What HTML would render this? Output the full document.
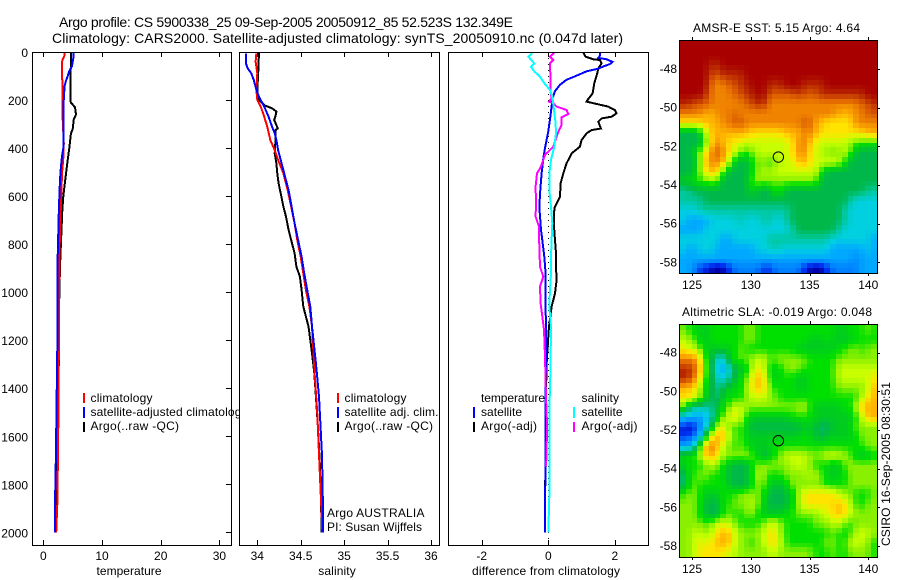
<!DOCTYPE html>
<html>
<head>
<meta charset="utf-8">
<title>Argo profile</title>
<style>
html,body{margin:0;padding:0;background:#fff;}
svg{display:block;}
text{font-family:"Liberation Sans",sans-serif;font-size:12px;fill:#000;}
.t14{font-size:14px;}
</style>
</head>
<body>
<svg id="fig" xmlns="http://www.w3.org/2000/svg" width="900" height="580" viewBox="0 0 900 580">
  <rect x="0" y="0" width="900" height="580" fill="#fff"/>
  <text class="t14" x="59" y="27" textLength="454">Argo profile: CS 5900338_25 09-Sep-2005 20050912_85 52.523S 132.349E</text>
  <text class="t14" x="52" y="43" textLength="571">Climatology: CARS2000. Satellite-adjusted climatology: synTS_20050910.nc (0.047d later)</text>

  <g id="p1"></g>
  <g>
    <rect x="83" y="393" width="2" height="10" fill="#f00"/>
    <rect x="83" y="407" width="2" height="11" fill="#00f"/>
    <rect x="83" y="422" width="2" height="10" fill="#000"/>
    <text x="90.5" y="402" textLength="62">climatology</text>
    <text x="90.5" y="416" textLength="157">satellite-adjusted climatology</text>
    <text x="90.5" y="430" textLength="88.5">Argo(..raw -QC)</text>
  </g>
  <text x="129" y="575" text-anchor="middle" textLength="65">temperature</text>

  <rect x="239" y="52" width="201" height="494" fill="#fff"/>
  <g id="p2"></g>
  <g>
    <rect x="337" y="393" width="2" height="10" fill="#f00"/>
    <rect x="337" y="407" width="2" height="11" fill="#00f"/>
    <rect x="337" y="422" width="2" height="10" fill="#000"/>
    <text x="344.5" y="402" textLength="62">climatology</text>
    <text x="344.5" y="416" textLength="94">satellite adj. clim.</text>
    <text x="344.5" y="430" textLength="88.5">Argo(..raw -QC)</text>
    <text x="327" y="517" textLength="97.5">Argo AUSTRALIA</text>
    <text x="327" y="531" textLength="95">PI: Susan Wijffels</text>
  </g>
  <text x="337" y="575" text-anchor="middle" textLength="37.5">salinity</text>

  <g id="p3"></g>
  <g>
    <text x="481" y="402" textLength="64">temperature</text>
    <rect x="473" y="407" width="2" height="11" fill="#00f"/>
    <rect x="473" y="422" width="2" height="10" fill="#000"/>
    <text x="481" y="416" textLength="41">satellite</text>
    <text x="481" y="430" textLength="56">Argo(-adj)</text>
    <text x="581.5" y="402" textLength="37.5">salinity</text>
    <rect x="573" y="407" width="2" height="11" fill="#0ff"/>
    <rect x="573" y="422" width="2" height="10" fill="#f0f"/>
    <text x="581.5" y="416" textLength="41">satellite</text>
    <text x="581.5" y="430" textLength="56">Argo(-adj)</text>
  </g>
  <text x="546" y="575" text-anchor="middle" textLength="148">difference from climatology</text>

  <text x="693" y="32" textLength="167">AMSR-E SST: 5.15 Argo: 4.64</text>
  <g id="m1"></g>
  <text x="682" y="316" textLength="190">Altimetric SLA: -0.019 Argo: 0.048</text>
  <g id="m2"></g>
  <text transform="translate(890,546) rotate(-90)" textLength="164">CSIRO 16-Sep-2005 08:30:51</text>
</svg>

<script>
// ---------- profile data: depth (m) and value pairs ----------
const tempClimDepth = [0,15,30,40,100,130,200,280,380,440,500,600,800,1000,1200,1550,1870,2000];
const tempClimValue = [3.6,3.6,3.3,3.2,3.15,3.3,3.3,3.3,3.5,3.4,3.2,3.05,2.8,2.7,2.65,2.55,2.4,2.2];
const tempSatDepth = [0,30,60,80,100,120,140,190,300,400,430,480,530,650,850,1000,1200,1680,1880,2000];
const tempSatValue = [5.2,5.1,4.85,4.4,4.15,3.85,3.65,3.5,3.4,3.4,3.2,3.0,2.85,2.65,2.45,2.45,2.4,2.15,2.0,2.0];
const tempArgoDepth = [0,100,200,210,230,260,280,320,340,400,440,480,530,600,660,800,860,1000,1200,1260,1450,1800,2000];
const tempArgoValue = [4.7,4.66,4.6,4.7,5.4,5.57,5.2,5.0,4.7,4.43,4.2,4.0,3.75,3.4,3.24,3.0,2.9,2.73,2.67,2.67,2.5,2.33,2.2];

const salClimDepth = [5,40,88,158,200,227,269,311,366,408,449,505,575,644,713,783,852,921,991,1060,1143,1336,1500,2000];
const salClimValue = [33.99,33.98,34.0,33.99,34.0,34.04,34.08,34.115,34.15,34.2,34.24,34.3,34.35,34.39,34.43,34.46,34.5,34.53,34.56,34.6,34.63,34.66,34.69,34.75];
const salSatDepth = [5,47,68,88,116,158,186,227,269,311,338,366,408,449,505,547,575,644,713,783,852,921,991,1060,1143,1295,1434,1573,1680,1880,2000];
const salSatValue = [33.87,33.87,33.89,33.93,33.96,33.99,34.02,34.08,34.13,34.17,34.2,34.22,34.24,34.27,34.31,34.34,34.36,34.395,34.43,34.47,34.51,34.54,34.575,34.61,34.63,34.675,34.71,34.73,34.745,34.755,34.755];
const salArgoDepth = [1,88,158,193,206,223,234,248,266,283,304,318,325,366,422,463,505,547,588,644,685,741,783,838,894,935,991,1060,1143,1240,1337,1434,1573,1712,1823,1976,2000];
const salArgoValue = [34.02,34.01,34.0,34.01,34.04,34.09,34.17,34.22,34.21,34.195,34.22,34.235,34.21,34.21,34.2,34.22,34.23,34.245,34.27,34.3,34.33,34.36,34.39,34.43,34.45,34.49,34.51,34.53,34.59,34.625,34.656,34.675,34.70,34.72,34.73,34.74,34.74];

const diffTempSatDepth = [0,15,24,30,41,50,60,69,80,101,115,136,163,191,261,330,400,434,505,574,644,740,783,852,921,1060,1157,1460,1712,1880,2000];
const diffTempSatValue = [1.55,1.55,1.5,1.75,1.93,1.85,1.65,1.5,1.15,0.8,0.55,0.35,0.2,0.13,0.07,0,-0.1,-0.14,-0.2,-0.24,-0.27,-0.22,-0.18,-0.12,-0.08,-0.08,-0.07,-0.08,-0.08,-0.1,-0.1];
const diffTempArgoDepth = [1,19,30,33,47,68,88,130,172,199,206,213,227,241,255,269,276,290,318,325,338,366,394,422,463,505,547,602,630,651,727,783,838,894,949,1005,1060,1143,1185,1300,1500,2000];
const diffTempArgoValue = [1.05,1.12,1.35,1.55,1.6,1.5,1.47,1.38,1.33,1.18,1.15,1.35,1.8,2.0,2.05,1.9,1.6,1.5,1.58,1.3,1.15,1.0,0.95,0.7,0.55,0.45,0.37,0.35,0.25,0.18,0.17,0.2,0.23,0.23,0.25,0.2,0.1,0.02,0,-0.05,-0.08,-0.1];
const diffSalSatDepth = [5,19,47,61,81,102,130,158,186,227,297,338,394,449,505,574,644,713,783,852,921,991,1060,1143,1157,1350,1460,1670,1850,2000];
const diffSalSatValue = [-0.48,-0.6,-0.42,-0.52,-0.42,-0.25,-0.12,0.05,0.12,0.16,0.22,0.23,0.18,0.08,0.03,0.03,0.08,0.12,0.1,0.08,0.08,0.05,0.03,0.08,0.08,0.06,0.04,0.03,0.03,0.0];
const diffSalArgoDepth = [1,19,33,47,88,158,193,206,213,227,241,258,272,304,325,352,394,428,477,505,560,630,685,727,810,894,935,977,1046,1143,1157,1268,1434,1546,1670,1725];
const diffSalArgoValue = [0.18,0.05,0.15,0.05,0.06,0.06,0.1,0.02,0.15,0.25,0.55,0.6,0.4,0.4,0.32,0.25,0.15,-0.1,-0.22,-0.34,-0.38,-0.37,-0.38,-0.28,-0.27,-0.25,-0.15,-0.25,-0.23,-0.14,-0.13,-0.1,-0.07,-0.04,-0.05,-0.07];

// ---------- tick labels ----------
const depthTicks = [0,200,400,600,800,1000,1200,1400,1600,1800,2000];
const tempTicks = [0,10,20,30];
const salTicks = [34,34.5,35,35.5,36];
const diffTicks = [-2,0,2];
const lonTicks = [125,130,135,140];
const latTicks = [-48,-50,-52,-54,-56,-58];
const profileLon = 132.349;
const profileLat = -52.523;

// ---------- map grids (colour level per cell, north to south, west to east) ----------
const sstRows = [
[16,16,16,16,16,16,16,16,16,16,16,16,16,16,16,16,16,16,16,16,16,16,16,16,16,16,16,16,16,16,16,16,16,16],
[16,16,16,16,16,16,16,16,16,16,16,16,16,16,16,16,16,16,16,16,16,16,16,16,16,16,16,16,16,16,16,16,16,16],
[16,16,16,16,16,15,15,16,16,16,16,16,16,16,16,16,16,16,16,16,16,16,16,16,16,16,16,16,16,16,16,16,16,16],
[16,16,16,16,16,14,14,15,15,15,15,16,16,16,16,16,16,16,16,16,16,16,16,16,16,16,16,16,16,16,16,16,16,16],
[16,16,16,16,16,13,13,13,14,14,15,15,16,16,16,15,15,15,16,16,16,15,15,15,15,16,16,16,16,16,16,16,16,16],
[16,16,16,16,15,13,13,13,13,14,14,15,15,16,16,14,14,14,14,14,15,14,14,14,15,15,15,15,15,15,15,15,16,16],
[15,15,14,14,14,13,13,13,13,13,13,14,14,15,15,13,13,13,13,13,13,13,13,13,13,13,13,13,13,13,13,14,14,15],
[13,13,13,13,12,12,13,13,13,14,13,13,13,13,13,13,13,13,13,13,13,13,13,13,13,13,13,12,12,12,13,13,14,14],
[11,11,11,11,12,12,12,13,13,14,14,13,13,13,13,13,13,13,13,13,13,14,14,12,12,11,11,11,11,11,13,13,13,13],
[6,6,6,7,10,12,12,12,12,12,12,12,11,11,11,11,11,11,12,12,12,13,13,12,11,11,11,11,11,11,11,11,12,12],
[6,6,6,6,9,12,13,12,11,11,10,10,10,10,10,10,10,10,10,11,13,13,12,10,10,10,10,10,10,9,9,8,8,8],
[6,6,7,9,11,13,14,13,11,10,9,8,9,10,10,10,10,10,10,11,13,13,11,10,10,9,9,9,10,9,6,6,6,6],
[6,6,6,9,12,13,13,12,10,7,6,6,8,9,9,8,9,10,10,10,12,12,11,10,10,10,10,10,8,6,6,6,6,6],
[6,6,7,9,11,12,11,9,6,6,6,6,8,9,10,9,10,10,10,10,10,10,10,10,8,6,6,6,6,6,6,6,6,6],
[7,7,8,8,9,9,9,6,6,6,6,6,9,9,9,9,9,9,9,9,9,9,9,9,6,6,6,6,6,6,6,6,6,6],
[5,5,6,6,6,6,6,6,6,6,6,6,8,6,6,6,8,8,6,6,6,6,6,6,6,6,6,6,6,6,6,6,5,5],
[5,5,5,5,6,6,6,6,6,6,6,6,6,6,6,6,6,6,6,6,6,6,6,6,6,6,6,6,6,5,4,4,4,4],
[4,4,4,5,5,5,5,5,5,5,5,5,5,5,5,5,5,5,5,6,6,6,6,6,6,6,6,6,5,4,4,4,4,4],
[4,3,3,3,3,4,4,4,4,4,5,4,4,4,5,5,4,4,5,6,6,6,6,6,6,6,6,6,5,4,4,4,4,4],
[3,3,3,3,4,4,4,4,4,4,4,4,4,4,4,4,4,4,4,5,6,6,6,6,6,6,6,5,4,4,4,4,4,4],
[4,4,4,4,4,4,4,3,3,4,4,4,4,4,4,5,5,5,5,5,5,5,5,5,5,5,4,4,4,4,4,4,4,3],
[4,3,3,4,4,4,3,3,3,3,3,3,3,4,4,4,5,4,4,4,4,4,4,4,4,4,3,3,3,3,3,3,4,3],
[3,3,3,3,3,3,3,3,3,3,3,3,3,3,3,3,3,3,3,3,3,3,3,3,3,3,3,3,3,3,2,3,3,3],
[3,3,2,1,1,0,0,0,1,2,2,2,2,2,1,1,2,2,2,2,2,1,0,0,0,1,2,2,2,2,2,3,3,3]
];
const slaRows = [
[9,8,8,7,7,8,8,8,8,8,8,9,9,8,8,8,8,8,8,8,8,8,8,8,8,8,8,7,7,8,8,8,9,8],
[10,9,9,7,7,8,8,8,8,8,8,9,9,8,8,8,8,8,8,8,8,8,7,7,7,8,7,7,7,7,8,8,8,8],
[11,10,10,9,7,7,7,7,7,8,9,8,8,8,8,8,8,8,8,8,7,7,7,7,7,7,7,8,8,9,9,8,9,9],
[13,13,13,11,8,6,4,4,6,9,8,9,9,10,10,8,9,9,9,9,9,9,8,8,8,8,8,9,9,9,9,9,9,9],
[15,15,14,12,8,6,3,3,4,6,7,7,10,11,10,8,7,8,9,9,9,8,8,8,8,8,8,10,10,10,10,10,10,10],
[15,15,13,11,8,6,4,4,5,6,8,8,11,12,11,8,7,8,8,8,7,7,8,8,8,8,8,10,10,10,10,10,10,11],
[12,12,11,10,7,6,5,6,7,7,8,9,11,12,11,9,8,8,8,8,7,7,8,8,8,8,8,9,9,9,9,9,10,12],
[11,11,10,9,7,6,5,7,8,8,8,9,10,10,10,9,9,8,8,8,8,8,8,8,8,8,8,8,8,8,8,10,11,12],
[9,6,5,5,5,5,7,7,9,10,10,9,9,9,9,9,9,9,9,9,9,10,8,7,7,7,7,7,8,8,9,12,12,12],
[4,3,3,3,3,5,7,9,10,11,10,8,7,7,7,7,7,7,7,8,8,8,8,7,7,7,7,7,7,7,8,10,12,12],
[1,0,1,2,4,7,10,11,9,8,9,7,6,6,6,6,6,6,6,6,6,7,7,6,6,5,7,7,7,7,9,9,9,9],
[1,1,2,3,7,11,12,12,10,8,9,7,7,7,7,7,7,7,7,7,7,8,7,7,5,7,7,7,7,7,8,9,9,9],
[3,3,4,8,13,13,12,10,9,8,9,8,7,7,7,7,8,8,8,8,8,8,8,8,8,8,8,8,8,8,8,8,9,9],
[7,8,8,9,12,12,11,9,9,9,9,9,9,7,6,7,8,9,10,10,10,10,9,9,9,10,10,10,9,9,7,7,7,8],
[7,8,8,8,9,10,9,8,7,6,6,6,8,9,9,9,9,9,9,10,10,10,9,8,8,8,7,7,9,9,9,9,9,9],
[5,8,8,9,9,8,8,8,6,6,6,6,8,10,9,8,8,8,9,9,9,9,10,9,9,7,7,7,8,9,9,9,9,9],
[5,8,9,8,8,8,8,8,7,6,6,6,8,9,9,7,7,6,8,9,9,9,9,9,9,8,8,8,8,9,9,9,9,9],
[8,9,9,8,7,7,7,8,8,8,9,9,9,9,8,6,6,6,6,8,9,11,11,11,11,11,11,10,9,9,8,8,8,9],
[9,9,9,8,6,6,6,8,8,9,9,9,10,9,7,6,6,6,6,8,9,11,11,11,11,11,11,12,11,10,8,8,9,9],
[9,9,9,8,6,6,6,8,9,8,8,9,9,8,7,7,7,7,8,8,9,9,9,9,10,10,11,12,11,10,9,9,9,9],
[9,9,9,9,8,9,10,10,10,9,8,8,8,8,9,10,10,9,8,8,8,8,8,9,9,9,10,10,9,8,9,9,9,9],
[9,9,10,10,9,10,11,12,12,10,9,9,9,9,10,11,11,9,8,8,8,8,8,8,8,8,9,8,8,8,10,10,10,9],
[9,9,10,11,10,11,12,12,12,10,9,9,8,9,10,11,11,10,8,8,8,8,8,8,8,9,9,8,8,10,10,10,9,8],
[9,9,10,11,11,11,11,11,10,10,9,9,9,9,9,10,10,9,9,9,9,9,9,8,8,8,9,8,8,9,9,9,9,8]
];

// ---------- drawing helpers ----------
const NS = 'http://www.w3.org/2000/svg';
const RAMP = [[0,0,168],[0,48,240],[0,128,255],[0,168,255],[0,208,224],[0,200,160],[0,184,74],[0,204,32],[0,224,0],[136,240,0],[200,255,0],[255,228,0],[255,180,0],[240,132,0],[216,88,0],[184,40,0],[168,0,0]];
function levelColor(v){
  const t = Math.max(0, Math.min(RAMP.length-1, v));
  const i = Math.min(RAMP.length-2, Math.floor(t));
  const f = t - i;
  const c = [0,1,2].map(function(k){ return Math.round(RAMP[i][k] + (RAMP[i+1][k]-RAMP[i][k])*f); });
  return 'rgb(' + c.join(',') + ')';
}

function mk(parent, tag, name, attrs){
  const el = document.createElementNS(NS, tag);
  
  
  for (const k in attrs) el.setAttribute(k, attrs[k]);
  parent.appendChild(el);
  return el;
}
function seg(parent, name, x1, y1, x2, y2){
  return mk(parent, 'line', name, {x1:x1, y1:y1, x2:x2, y2:y2, stroke:'#000', 'stroke-width':1, 'shape-rendering':'crispEdges'});
}
function label(parent, name, x, y, str, anchor){
  const t = mk(parent, 'text', name, {x:x, y:y, 'text-anchor':anchor});
  t.textContent = str;
  return t;
}

// ---------- profile panels ----------
const TOP = 52, BOTTOM = 545;
function yDepth(d){ return 52.1 + d * 0.2401; }

function profilePanel(id, left, right, xScale, xTicks, opts){
  const g = document.getElementById(id);
  const clipId = id + '-clip';
  const clip = mk(g, 'clipPath', 'panel-clip', {id:clipId});
  mk(clip, 'rect', 'panel-clip-rect', {x:left, y:TOP, width:right-left, height:BOTTOM-TOP});
  const marks = mk(g, 'g', 'series-group', {'clip-path':'url(#'+clipId+')'});
  if (opts.dotted) {
    mk(marks, 'line', 'zero-reference-line', {x1:xScale(0), y1:TOP, x2:xScale(0), y2:BOTTOM, stroke:'#000', 'stroke-width':1, 'stroke-dasharray':'1 5', 'shape-rendering':'crispEdges'});
  }
  opts.series.forEach(function(s){
    const pts = s.depth.map(function(d, i){ return xScale(s.value[i]).toFixed(1) + ',' + yDepth(d).toFixed(1); }).join(' ');
    mk(marks, 'polyline', s.name, {points:pts, fill:'none', stroke:s.color, 'stroke-width':2, 'stroke-linejoin':'miter', 'shape-rendering':'crispEdges'});
  });
  mk(g, 'rect', 'panel-frame', {x:left+0.5, y:TOP+0.5, width:right-left, height:BOTTOM-TOP, fill:'none', stroke:'#000', 'stroke-width':1, 'shape-rendering':'crispEdges'});
  xTicks.forEach(function(v){
    const x = Math.round(xScale(v)) + 0.5;
    seg(g, 'x-tick-top', x, TOP, x, TOP+5);
    seg(g, 'x-tick-bottom', x, BOTTOM-5, x, BOTTOM);
    label(g, 'x-tick-label', xScale(v), 560, String(v), 'middle');
  });
  if (opts.depthAxis) {
    depthTicks.forEach(function(d){
      const y = Math.round(yDepth(d)) + 0.5;
      seg(g, 'y-tick-right', right-5, y, right, y);
      label(g, 'y-tick-label', 28, yDepth(d) + 5, String(d), 'end');
    });
  }
}

function xTemp(v){ return 43.3 + v * 5.87; }
function xSal(v){ return 257.3 + (v - 34) * 86.85; }
function xDiff(v){ return 548.3 + v * 33.3; }

profilePanel('p1', 32, 231, xTemp, tempTicks, {depthAxis:true, series:[
  {name:'argo-temperature-line', color:'#000', depth:tempArgoDepth, value:tempArgoValue},
  {name:'climatology-temperature-line', color:'#f00', depth:tempClimDepth, value:tempClimValue},
  {name:'satellite-temperature-line', color:'#00f', depth:tempSatDepth, value:tempSatValue}
]});
profilePanel('p2', 239, 439, xSal, salTicks, {series:[
  {name:'argo-salinity-line', color:'#000', depth:salArgoDepth, value:salArgoValue},
  {name:'climatology-salinity-line', color:'#f00', depth:salClimDepth, value:salClimValue},
  {name:'satellite-salinity-line', color:'#00f', depth:salSatDepth, value:salSatValue}
]});
profilePanel('p3', 448, 648, xDiff, diffTicks, {dotted:true, series:[
  {name:'argo-temperature-difference-line', color:'#000', depth:diffTempArgoDepth, value:diffTempArgoValue},
  {name:'satellite-temperature-difference-line', color:'#00f', depth:diffTempSatDepth, value:diffTempSatValue},
  {name:'argo-salinity-difference-line', color:'#f0f', depth:diffSalArgoDepth, value:diffSalArgoValue},
  {name:'satellite-salinity-difference-line', color:'#0ff', depth:diffSalSatDepth, value:diffSalSatValue}
]});

// ---------- maps ----------
function cellValue(rows, r, c){
  const rr = Math.max(0, Math.min(rows.length-1, r));
  const row = rows[rr];
  const cc = Math.max(0, Math.min(row.length-1, c));
  return row[cc];
}
// Level at half-row s of cell (r,c), softened against its neighbours like the resampled satellite image.
function softLevel(rows, r, s, c){
  const other = s === 0 ? r - 1 : r + 1;
  const across = function(rowIndex){
    return 0.25 * cellValue(rows, rowIndex, c-1) + 0.5 * cellValue(rows, rowIndex, c) + 0.25 * cellValue(rows, rowIndex, c+1);
  };
  return 0.72 * across(r) + 0.28 * across(other);
}
function mapPanel(id, rows, top, lat48Y, cellName){
  const g = document.getElementById(id);
  const left = 680, right = 877, height = 232;
  const xLon = function(lon){ return 692 + (lon - 125) * 11.75; };
  const yLat = function(lat){ return lat48Y + (-48 - lat) * 19.33; };
  const cw = 196.5 / rows[0].length;
  const ch = height / rows.length;
  rows.forEach(function(row, r){
    [0,1].forEach(function(s){
      row.forEach(function(v, c){
        const x0 = Math.round(left + c * cw), x1 = Math.round(left + (c + 1) * cw);
        const y0 = Math.round(top + (r + s/2) * ch), y1 = Math.round(top + (r + (s+1)/2) * ch);
        mk(g, 'rect', cellName, {x:x0, y:y0, width:x1-x0, height:y1-y0, fill:levelColor(softLevel(rows, r, s, c)), 'shape-rendering':'crispEdges'});
      });
    });
  });
  mk(g, 'rect', 'map-frame', {x:left-0.5, y:top-0.5, width:right-left+1, height:height+1, fill:'none', stroke:'#000', 'stroke-width':1, 'shape-rendering':'crispEdges'});
  lonTicks.forEach(function(lon){
    const x = Math.round(xLon(lon)) + 0.5;
    seg(g, 'lon-tick-top', x, top-4, x, top);
    seg(g, 'lon-tick-bottom', x, top+height, x, top+height+3);
    label(g, 'lon-tick-label', xLon(lon), top+height+16, String(lon), 'middle');
  });
  latTicks.forEach(function(lat){
    const y = Math.round(yLat(lat)) + 0.5;
    seg(g, 'lat-tick-right', right, y, right+3, y);
    label(g, 'lat-tick-label', 677, yLat(lat) + 4, String(lat), 'end');
  });
  mk(g, 'circle', 'argo-profile-marker', {cx:xLon(profileLon), cy:yLat(profileLat)+0.6, r:5.2, fill:'none', stroke:'#000', 'stroke-width':1});
}
mapPanel('m1', sstRows, 41, 69, 'sst-cell');
mapPanel('m2', slaRows, 325, 352.7, 'sla-cell');
</script>
</body>
</html>
